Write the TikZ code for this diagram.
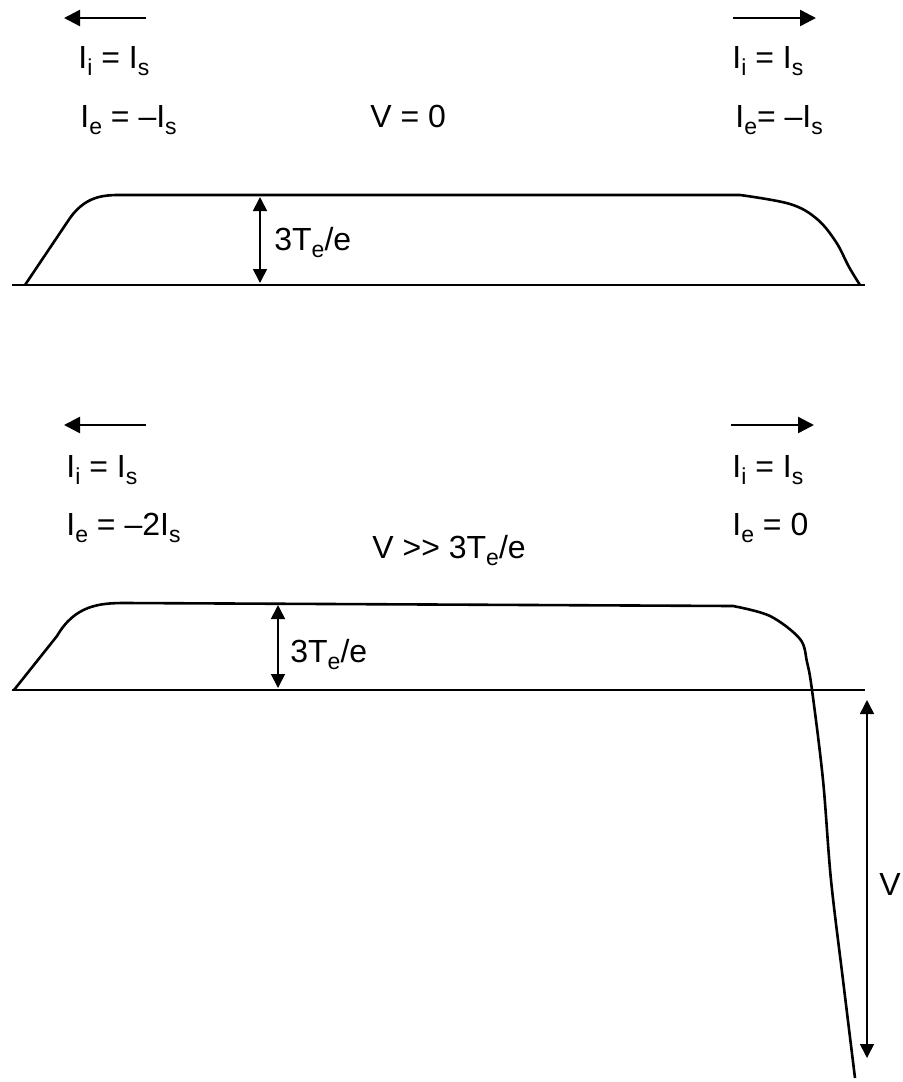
\documentclass[tikz,border=0pt]{standalone}
\usepackage{fontspec}
\setmainfont{Liberation Sans}
\usetikzlibrary{arrows.meta, positioning}
\newcommand{\lo}[1]{\raisebox{-0.45ex}{\fontsize{11.5}{12}\selectfont #1}}

\begin{document}
\begin{tikzpicture}[
    x=0.5pt, y=-0.5pt,
    lbl/.style={anchor=base west, inner sep=0pt, font=\fontsize{16}{19}\selectfont},
    profile/.style={line width=1.3pt, line join=round},
    axis/.style={line width=1.2pt},
    flux/.style={-{Triangle[length=8pt, width=8pt]}, line width=1.2pt},
    gap/.style={{Triangle[length=7pt, width=7pt]}-{Triangle[length=7pt, width=7pt]}, line width=0.8pt}
]
\useasboundingbox (0,0) rectangle (902,1082);

% upper panel: V = 0
\coordinate (ulA) at (146,18);  \coordinate (ulB) at (64,18);
\coordinate (urA) at (733,18);  \coordinate (urB) at (816,18);
\draw[flux] (ulA) -- (ulB);
\draw[flux] (urA) -- (urB);
\node[lbl] (uIiL) at (78,68) {I\lo{i} = I\lo{s}};
\node[lbl] (uIeL) at (80,127) {I\lo{e} = \textendash I\lo{s}};
\node[lbl] (uV) at (370,127) {V = 0};
\node[lbl] (uIiR) at (732,68) {I\lo{i} = I\lo{s}};
\node[lbl] (uIeR) at (735,127) {I\lo{e}= \textendash I\lo{s}};

\coordinate (ubL) at (12,285);  \coordinate (ubR) at (865,285);
\draw[axis] (ubL) -- (ubR);
\draw[profile] (25,285) -- (70,218) .. controls (88,193) and (108,195) .. (130,195)
    -- (740,195) plot[smooth, tension=0.6] coordinates {(740,195) (790,204) (817,219) (836,242) (849,267) (860,285)};
\coordinate (ugB) at (260,283); \coordinate (ugT) at (260,197);
\draw[gap] (ugB) -- (ugT);
\node[lbl] (ugap) at (274,250) {3T\lo{e}/e};

% lower panel: V >> 3Te/e
\coordinate (llA) at (146,425); \coordinate (llB) at (64,425);
\coordinate (lrA) at (731,425); \coordinate (lrB) at (814,425);
\draw[flux] (llA) -- (llB);
\draw[flux] (lrA) -- (lrB);
\node[lbl] (lIiL) at (66,477) {I\lo{i} = I\lo{s}};
\node[lbl] (lIeL) at (66,535) {I\lo{e} = \textendash 2I\lo{s}};
\node[lbl] (lV) at (372,558) {V {>}{>} 3T\lo{e}/e};
\node[lbl] (lIiR) at (732,477) {I\lo{i} = I\lo{s}};
\node[lbl] (lIeR) at (732,535) {I\lo{e} = 0};

\coordinate (lbL) at (12,690);  \coordinate (lbR) at (865,690);
\draw[axis] (lbL) -- (lbR);
\draw[profile] (14,690) -- (57,636) .. controls (75,605) and (100,603) .. (125,603)
    -- (733,606) plot[smooth, tension=0.55] coordinates {(733,606) (770,616) (800,639) (807,662) (812,690) (823,780) (831,880) (843,980) (855,1078)};
\coordinate (lgB) at (278,688); \coordinate (lgT) at (278,605);
\draw[gap] (lgB) -- (lgT);
\node[lbl] (lgap) at (290,662) {3T\lo{e}/e};

\coordinate (vT) at (867,700); \coordinate (vB) at (867,1058);
\draw[gap] (vT) -- (vB);
\node[lbl] (vlbl) at (879,895) {V};
\end{tikzpicture}
\end{document}
